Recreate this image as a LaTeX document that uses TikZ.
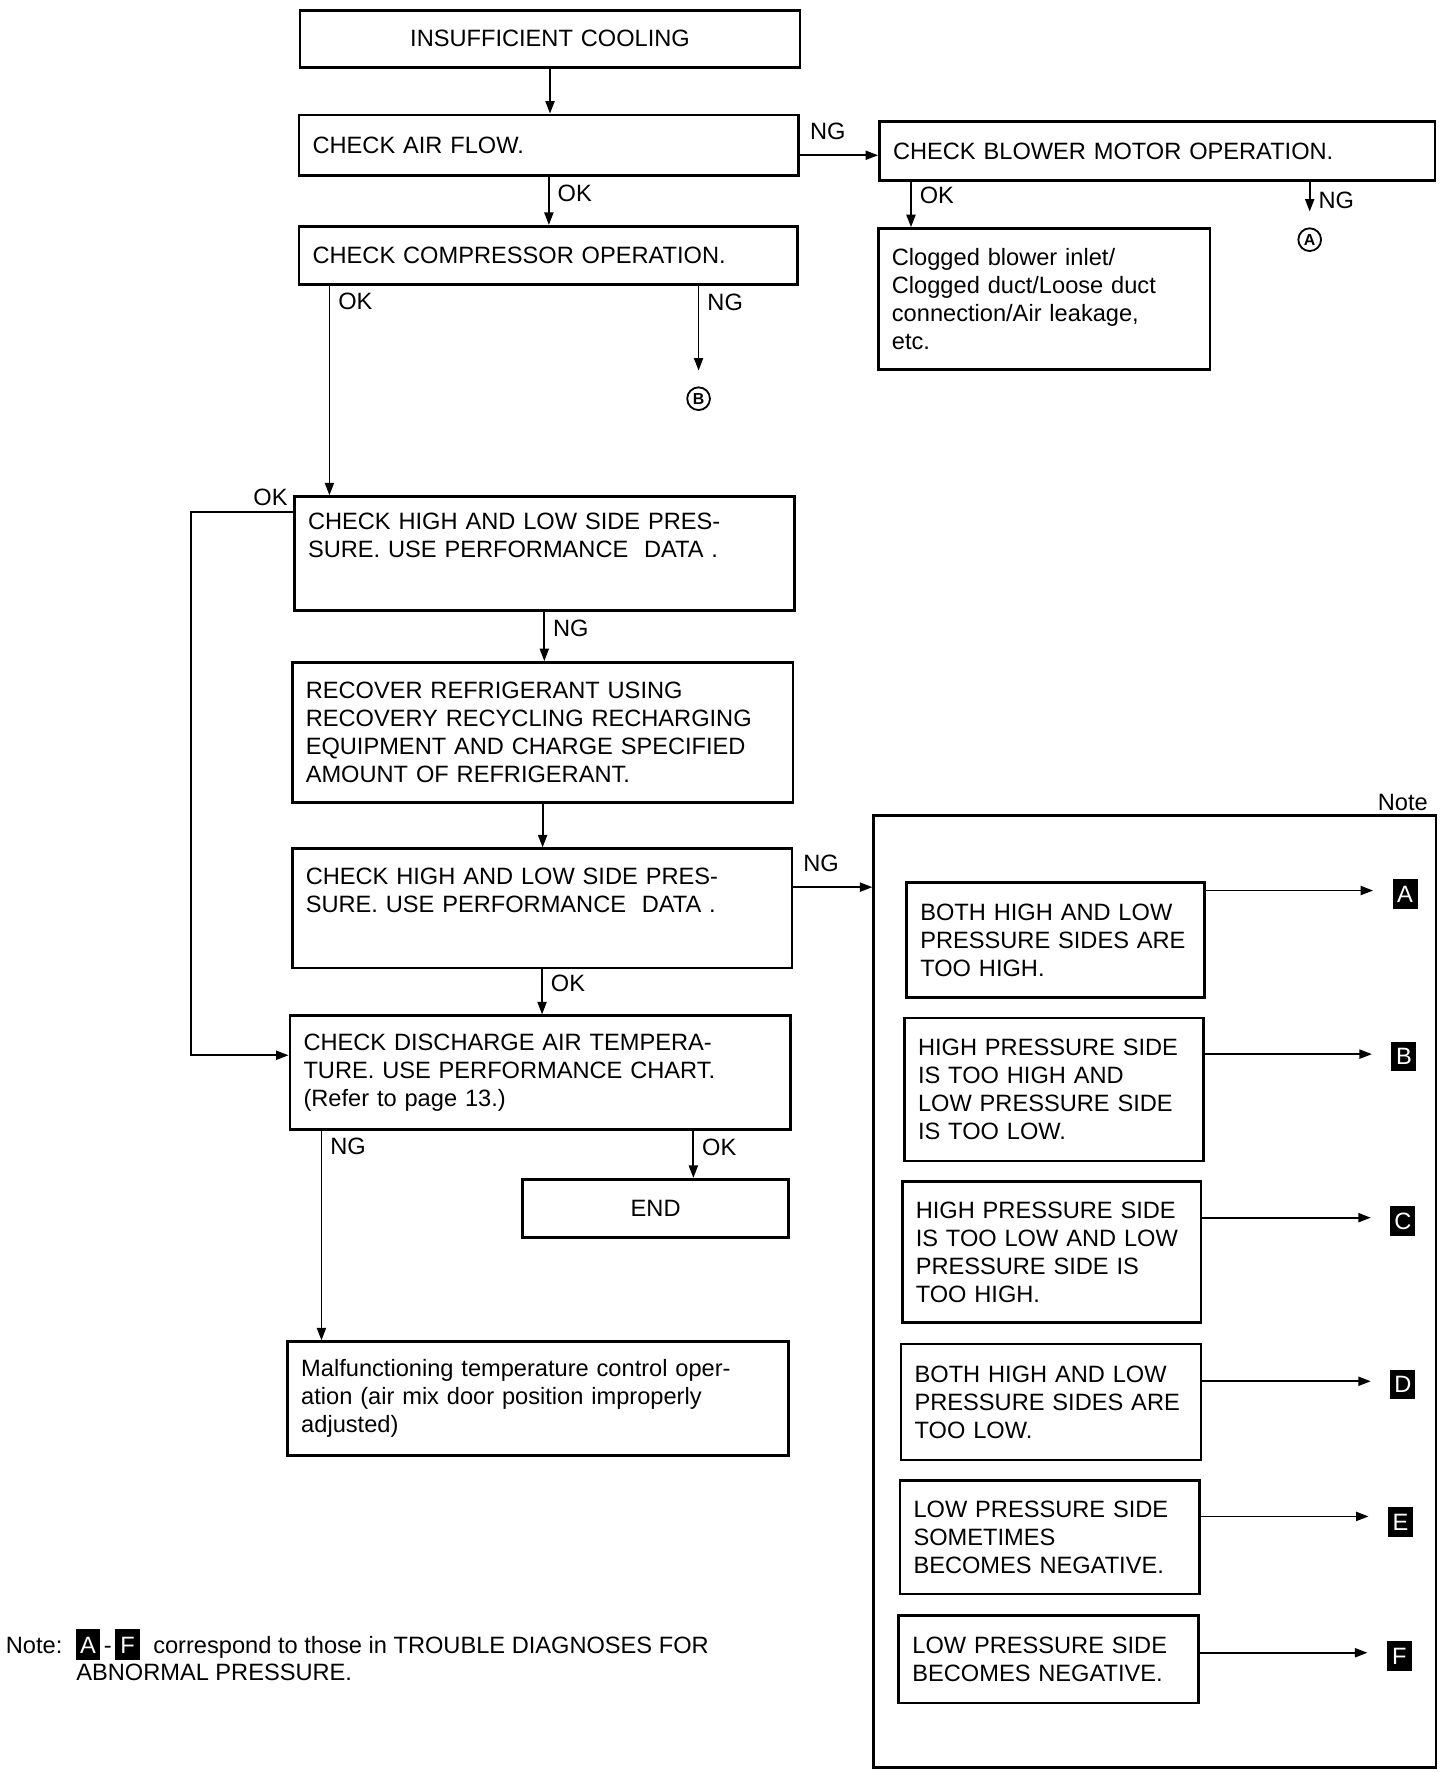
\documentclass[tikz,border=0pt]{standalone}
\usepackage{fontspec}
\setmainfont{Liberation Sans}
\usetikzlibrary{arrows.meta}

\newcommand{\lettrenoire}[1]{{\fboxsep=3.5pt\colorbox{black}{\makebox[15pt]{\rule[-2pt]{0pt}{20pt}\textcolor{white}{#1}}}}}

\begin{document}
\begin{tikzpicture}[x=1pt, y=-1pt,
    every node/.style={font=\fontsize{20.8}{24.7}\selectfont},
    box/.style={draw, line width=2.4pt, anchor=north west, inner xsep=12pt, inner ysep=3pt, align=left},
    fleche/.style={-{Triangle[length=11pt,width=8pt]}, line width=1.6pt},
    lbl/.style={inner sep=2pt},
    carre/.style={fill=black, text=white, minimum width=22pt, minimum height=26pt, inner sep=0pt},
    rond/.style={draw, circle, line width=1.6pt, minimum size=20pt, inner sep=0pt, font=\fontsize{14}{14}\selectfont\bfseries}]

    \useasboundingbox (0,0) rectangle (1268,1560);

    % Boites de gauche
    \node[box, align=center, text width=416pt, minimum height=50pt] (debut) at (263,8) {INSUFFICIENT COOLING};
    \node[box, text width=416pt, minimum height=53pt] (air) at (262,100) {CHECK AIR FLOW.};
    \node[box, text width=415pt, minimum height=51pt] (comp) at (262,198) {CHECK COMPRESSOR OPERATION.};
    \node[box, text width=416pt, minimum height=100pt] (pres) at (258,436) {CHECK HIGH AND LOW SIDE PRES-\\SURE. USE PERFORMANCE\ \ DATA .\\[8pt]\mbox{}};
    \node[box, text width=417pt, minimum height=123pt] (recup) at (256,582) {RECOVER REFRIGERANT USING\\RECOVERY RECYCLING RECHARGING\\EQUIPMENT AND CHARGE SPECIFIED\\AMOUNT OF REFRIGERANT.};
    \node[box, text width=416pt, minimum height=105pt] (pres2) at (256,746) {CHECK HIGH AND LOW SIDE PRES-\\SURE. USE PERFORMANCE\ \ DATA .\\[8pt]\mbox{}};
    \node[box, text width=417pt, minimum height=100pt] (disc) at (254,893) {CHECK DISCHARGE AIR TEMPERA-\\TURE. USE PERFORMANCE CHART.\\(Refer to page 13.)};
    \node[box, align=center, text width=210pt, minimum height=51pt] (fin) at (459,1037) {END};
    \node[box, text width=417pt, minimum height=100pt] (malf) at (252,1180) {Malfunctioning temperature control oper-\\ation (air mix door position improperly\\adjusted)};

    % Boites de droite
    \node[box, text width=465pt, minimum height=52pt] (blower) at (773,106) {CHECK BLOWER MOTOR OPERATION.};
    \node[box, text width=268pt, minimum height=124pt] (clog) at (772,200) {Clogged blower inlet/\\Clogged duct/Loose duct\\connection/Air leakage,\\etc.};
    \node[rond] (cA) at (1153,211) {A};
    \node[rond] (cB) at (615,351) {B};

    % Cadre des notes
    \node[draw, line width=2.2pt, anchor=north west, minimum width=495pt, minimum height=838pt, inner sep=0pt] (cadre) at (768,717) {};
    \node[lbl, anchor=south east] (note) at ([xshift=-6pt, yshift=1pt]cadre.north east) {Note};

    \node[box, text width=238pt, minimum height=101pt] (nA) at (797,776) {BOTH HIGH AND LOW\\PRESSURE SIDES ARE\\TOO HIGH.};
    \node[box, text width=239pt, minimum height=126pt] (nB) at (795,895) {HIGH PRESSURE SIDE\\IS TOO HIGH AND\\LOW PRESSURE SIDE\\IS TOO LOW.};
    \node[box, text width=239pt, minimum height=124pt] (nC) at (793,1039) {HIGH PRESSURE SIDE\\IS TOO LOW AND LOW\\PRESSURE SIDE IS\\TOO HIGH.};
    \node[box, text width=240pt, minimum height=102pt] (nD) at (792,1182) {BOTH HIGH AND LOW\\PRESSURE SIDES ARE\\TOO LOW.};
    \node[box, text width=240pt, minimum height=100pt] (nE) at (791,1302) {LOW PRESSURE SIDE\\SOMETIMES\\BECOMES NEGATIVE.};
    \node[box, text width=240pt, minimum height=77pt] (nF) at (790,1421) {LOW PRESSURE SIDE\\BECOMES NEGATIVE.};

    \node[carre] (sqA) at (1237,787) {A};
    \node[carre] (sqB) at (1236,930) {B};
    \node[carre] (sqC) at (1235,1075) {C};
    \node[carre] (sqD) at (1235,1219) {D};
    \node[carre] (sqE) at (1233,1340) {E};
    \node[carre] (sqF) at (1232,1458) {F};

    % Remarque en bas
    \node[anchor=west, inner sep=0pt] (remarque) at (5,1448) {Note:\ \ \lettrenoire{A}\kern3pt-\kern3pt\lettrenoire{F}\ \ correspond to those in TROUBLE DIAGNOSES FOR};
    \node[anchor=west, inner sep=0pt] (remarque2) at (67,1472) {ABNORMAL PRESSURE.};

    % Fleches
    \draw[fleche] (debut.south) -- (debut.south |- air.north);
    \draw[fleche] (air.south) -- (air.south |- comp.north) node[lbl, right=5pt, pos=.35] {OK};

    \coordinate (ngA) at ([yshift=-9pt]air.east);
    \draw[fleche] (ngA) -- (ngA -| blower.west) node[lbl, pos=0, above right, xshift=6pt, yshift=11pt] {NG};

    \coordinate (okB) at ([xshift=29pt]blower.south west);
    \draw[fleche] (okB) -- (okB |- clog.north) node[lbl, right=5pt, pos=.3] {OK};
    \coordinate (ngB) at (cA.north |- blower.south);
    \draw[fleche, shorten >=14pt] (ngB) -- (cA.north) node[lbl, right=5pt, pos=.4] {NG};

    \coordinate (okC) at ([xshift=28pt]comp.south west);
    \draw[fleche] (okC) -- (okC |- pres.north) node[lbl, right=5pt, pos=.075] {OK};
    \coordinate (ngC) at (cB.north |- comp.south);
    \draw[fleche, shorten >=14pt] (ngC) -- (cB.north) node[lbl, right=5pt, pos=.17] {NG};

    \coordinate (okP) at ([yshift=-15pt]pres.north west);
    \coordinate (inD) at ([yshift=-36pt]disc.north west);
    \draw[fleche] (okP) node[lbl, above left, yshift=3pt, xshift=-2pt] {OK} -- ++(-90,0) |- (inD);

    \draw[fleche] (pres.south) -- (pres.south |- recup.north) node[lbl, right=5pt, pos=.33] {NG};
    \draw[fleche] (recup.south) -- (recup.south |- pres2.north);

    \coordinate (ngP) at ([yshift=-35pt]pres2.north east);
    \draw[fleche] (ngP) -- (ngP -| cadre.west) node[lbl, pos=0, above right, xshift=6pt, yshift=11pt] {NG};
    \draw[fleche] (pres2.south) -- (pres2.south |- disc.north) node[lbl, right=5pt, pos=.3] {OK};

    \coordinate (ngD) at ([xshift=29pt]disc.south west);
    \draw[fleche] (ngD) -- (ngD |- malf.north) node[lbl, right=5pt, pos=.075] {NG};
    \coordinate (okD) at ([xshift=-87pt]disc.south east);
    \draw[fleche] (okD) -- (okD |- fin.north) node[lbl, right=5pt, pos=.36] {OK};

    % Fleches vers les lettres
    \coordinate (flA) at ([yshift=-8pt]nA.north east);
    \draw[fleche, shorten >=17pt] (flA) -- (flA -| sqA.west);
    \coordinate (flB) at ([yshift=-33pt]nB.north east);
    \draw[fleche, shorten >=17pt] (flB) -- (flB -| sqB.west);
    \coordinate (flC) at ([yshift=-33pt]nC.north east);
    \draw[fleche, shorten >=17pt] (flC) -- (flC -| sqC.west);
    \coordinate (flD) at ([yshift=-34pt]nD.north east);
    \draw[fleche, shorten >=17pt] (flD) -- (flD -| sqD.west);
    \coordinate (flE) at ([yshift=-33pt]nE.north east);
    \draw[fleche, shorten >=17pt] (flE) -- (flE -| sqE.west);
    \coordinate (flF) at ([yshift=-34pt]nF.north east);
    \draw[fleche, shorten >=17pt] (flF) -- (flF -| sqF.west);

\end{tikzpicture}
\end{document}
